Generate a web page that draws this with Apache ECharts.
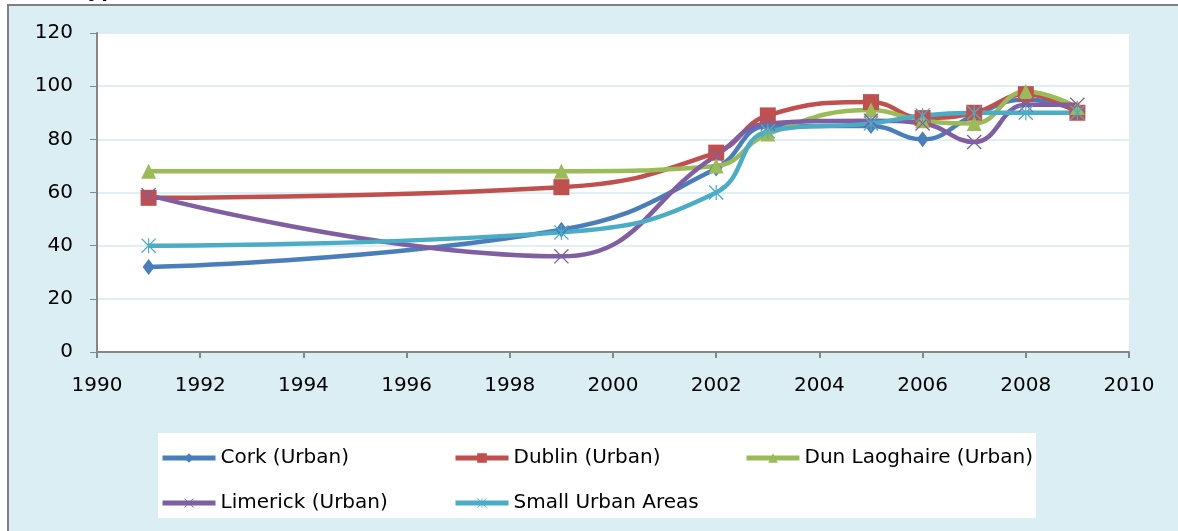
<!DOCTYPE html>
<html>
<head>
<meta charset="utf-8">
<script src="https://cdn.jsdelivr.net/npm/echarts@6/dist/echarts.min.js"></script>
<style>
  html, body { margin: 0; padding: 0; background: #fff; overflow: hidden; }
  #chart { width: 1178px; height: 531px; }
</style>
</head>
<body>
<div id="chart"></div>
<script>
const years = [1991, 1999, 2002, 2003, 2005, 2006, 2007, 2008, 2009]
const seriesNames = ['Cork (Urban)', 'Dublin (Urban)', 'Dun Laoghaire (Urban)', 'Limerick (Urban)', 'Small Urban Areas']
const cork = [32, 46, 69, 85, 85, 80, 89, 95, 91]
const dublin = [58, 62, 75, 89, 94, 88, 90, 97, 90]
const dunLaoghaire = [68, 68, 70, 82, 91, 87, 86, 98, 92]
const limerick = [59, 36, 74, 86, 87, 86, 79, 93, 93]
const smallUrban = [40, 45, 60, 83, 86, 89, 90, 90, 90]
const xTicks = { min: 1990, max: 2010, step: 2 }
const yTicks = { min: 0, max: 120, step: 20 }

const colors = ['#4a7ebb', '#c0504d', '#9bbb59', '#7f5fa1', '#4bacc6']
const xPath = 'path://M0,1.2L1.2,0L10,8.8L18.8,0L20,1.2L11.2,10L20,18.8L18.8,20L10,11.2L1.2,20L0,18.8L8.8,10Z'
const starPath = 'path://M0,1.2L1.2,0L10,8.8L18.8,0L20,1.2L11.2,10L20,18.8L18.8,20L10,11.2L1.2,20L0,18.8L8.8,10ZM9.2,0L10.8,0L10.8,20L9.2,20Z'
const symbols = ['diamond', 'rect', 'triangle', xPath, starPath]
const symbolSizes = [[12, 16], 16, 15, 15, 15]
const allValues = [cork, dublin, dunLaoghaire, limerick, smallUrban]

const font = 'DejaVu Sans'
const chart = echarts.init(document.getElementById('chart'))

const legendPos = [
  { left: 155, top: 443 },
  { left: 448, top: 443 },
  { left: 739, top: 443 },
  { left: 155, top: 488 },
  { left: 448, top: 488 }
]

const option = {
  backgroundColor: '#fff',
  animation: false,
  graphic: [
    {
      type: 'rect', z: -10,
      shape: { x: 8, y: 5, width: 1300, height: 600 },
      style: { fill: '#dbeef3', stroke: '#808080', lineWidth: 2 }
    },
    {
      type: 'rect', z: -9,
      shape: { x: 158, y: 433, width: 878, height: 85 },
      style: { fill: '#fff' }
    },
    {
      type: 'text', z: 10, left: 88, top: -23,
      style: { text: 'ype,', fill: '#000', font: 'bold 24px "Liberation Sans"' }
    }
  ],
  grid: {
    left: 97, right: 49, top: 33, bottom: 179,
    show: true, backgroundColor: '#fff', borderWidth: 0
  },
  legend: seriesNames.map((name, i) => ({
    data: [name],
    left: legendPos[i].left,
    top: legendPos[i].top,
    itemWidth: 53,
    itemHeight: 12,
    itemGap: 0,
    lineStyle: { width: 5 },
    textStyle: { fontFamily: font, fontSize: 20, color: '#000' }
  })),
  xAxis: {
    type: 'value',
    min: xTicks.min, max: xTicks.max, interval: xTicks.step,
    axisLine: { lineStyle: { color: '#868686', width: 2 } },
    axisTick: { show: true, length: 6, lineStyle: { color: '#868686', width: 2 } },
    splitLine: { show: false },
    axisLabel: {
      margin: 24, color: '#000', fontFamily: font, fontSize: 20,
      formatter: v => String(v)
    }
  },
  yAxis: {
    type: 'value',
    min: yTicks.min, max: yTicks.max, interval: yTicks.step,
    axisLine: { show: true, lineStyle: { color: '#868686', width: 2 } },
    axisTick: { show: true, length: 7, lineStyle: { color: '#868686', width: 1 } },
    splitLine: { lineStyle: { color: '#d6eaf1', width: 1.5 } },
    axisLabel: { margin: 24, color: '#000', fontFamily: font, fontSize: 20 }
  },
  series: seriesNames.map((name, i) => ({
    name,
    type: 'line',
    smooth: 0.45,
    data: years.map((y, j) => [y, allValues[i][j]]),
    symbol: symbols[i],
    symbolSize: symbolSizes[i],
    showAllSymbol: true,
    lineStyle: { color: colors[i], width: 4.5 },
    itemStyle: { color: colors[i], borderWidth: 0 }
  }))
}

chart.setOption(option)
</script>
</body>
</html>
